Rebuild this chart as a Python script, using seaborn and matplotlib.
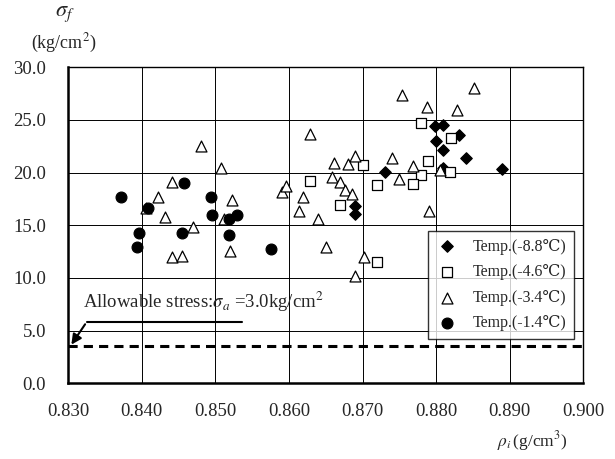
import numpy as np
import pandas as pd
import matplotlib
matplotlib.use('Agg')
import matplotlib.pyplot as plt
import seaborn as sns

# ------------------------------------------------------------
# datos: densidad rho_i (g/cm3) vs sigma_f (kg/cm2)
# ------------------------------------------------------------
rho_m88 = [0.8799, 0.8810, 0.8831, 0.8800, 0.8810, 0.8840, 0.8730, 0.8809, 0.8890, 0.8690, 0.8690]
sig_m88 = [24.4, 24.5, 23.6, 23.0, 22.1, 21.4, 20.1, 20.4, 20.3, 16.8, 16.1]

rho_m46 = [0.8779, 0.8820, 0.8700, 0.8789, 0.8819, 0.8629, 0.8780, 0.8769, 0.8720, 0.8669, 0.8719]
sig_m46 = [24.7, 23.3, 20.7, 21.1, 20.1, 19.2, 19.8, 18.9, 18.8, 16.9, 11.5]

rho_m34 = [0.8406, 0.8422, 0.8441, 0.8431, 0.8470, 0.8441, 0.8454, 0.8481, 0.8508, 0.8522,
           0.8511, 0.8520, 0.8590, 0.8596, 0.8619, 0.8613, 0.8640, 0.8628, 0.8661, 0.8680,
           0.8690, 0.8659, 0.8670, 0.8676, 0.8686, 0.8650, 0.8702, 0.8690, 0.8740, 0.8750,
           0.8769, 0.8790, 0.8753, 0.8787, 0.8829, 0.8851, 0.8805]
sig_m34 = [16.6, 17.7, 19.1, 15.8, 14.8, 12.0, 12.1, 22.5, 20.4, 17.4,
           15.6, 12.6, 18.2, 18.7, 17.7, 16.4, 15.6, 23.7, 20.9, 20.8,
           21.6, 19.6, 19.1, 18.3, 18.0, 12.9, 12.0, 10.2, 21.4, 19.4,
           20.6, 16.4, 27.4, 26.2, 25.9, 28.0, 20.2]

rho_m14 = [0.8371, 0.8457, 0.8408, 0.8396, 0.8393, 0.8455, 0.8494, 0.8496, 0.8519, 0.8529,
           0.8519, 0.8576]
sig_m14 = [17.7, 19.0, 16.6, 14.3, 12.9, 14.3, 17.7, 16.0, 15.6, 16.0, 14.1, 12.7]

etiquetas = ['Temp.(-8.8℃)', 'Temp.(-4.6℃)', 'Temp.(-3.4℃)', 'Temp.(-1.4℃)']
esfuerzo_adm = 3.5   # linea discontinua (tal como aparece dibujada)

x_ticks = [0.830, 0.840, 0.850, 0.860, 0.870, 0.880, 0.890, 0.900]
y_ticks = [0.0, 5.0, 10.0, 15.0, 20.0, 25.0, 30.0]

df = pd.concat([
    pd.DataFrame({'rho': rho_m88, 'sigma': sig_m88, 'temp': etiquetas[0]}),
    pd.DataFrame({'rho': rho_m46, 'sigma': sig_m46, 'temp': etiquetas[1]}),
    pd.DataFrame({'rho': rho_m34, 'sigma': sig_m34, 'temp': etiquetas[2]}),
    pd.DataFrame({'rho': rho_m14, 'sigma': sig_m14, 'temp': etiquetas[3]}),
], ignore_index=True)

# ------------------------------------------------------------
# estilo
# ------------------------------------------------------------
sns.set_style('white')
plt.rcParams['font.family'] = ['Liberation Serif', 'DejaVu Serif']
plt.rcParams['mathtext.fontset'] = 'stix'

fig = plt.figure(figsize=(6.15, 4.59), dpi=100)
ax = fig.add_axes([0.111, 0.165, 0.8374, 0.6885])

estilos = {
    etiquetas[0]: dict(marker='D', s=34, facecolor='black'),
    etiquetas[1]: dict(marker='s', s=52, facecolor='white'),
    etiquetas[2]: dict(marker='^', s=62, facecolor='white'),
    etiquetas[3]: dict(marker='o', s=60, facecolor='black'),
}

for et in etiquetas:
    sub = df[df['temp'] == et]
    st = estilos[et]
    sns.scatterplot(data=sub, x='rho', y='sigma', ax=ax, marker=st['marker'], s=st['s'],
                    color=st['facecolor'], edgecolor='black', linewidth=0.9,
                    label=et, zorder=3)

# linea de esfuerzo admisible
ax.axhline(esfuerzo_adm, color='black', lw=2.2, ls=(0, (3, 2)), zorder=2)

ax.set_xlim(0.83, 0.90)
ax.set_ylim(0, 30)
ax.set_xticks(x_ticks)
ax.set_yticks(y_ticks)
ax.set_xticklabels([f'{v:.3f}' for v in x_ticks])
ax.set_yticklabels([f'{v:.1f}' for v in y_ticks])
ax.tick_params(axis='both', length=0, labelsize=13.5)
ax.tick_params(axis='x', pad=14)
ax.tick_params(axis='y', pad=16)
ax.grid(True, color='black', lw=0.7)
ax.set_axisbelow(True)
ax.set_xlabel('')
ax.set_ylabel('')

for lado in ['left', 'bottom']:
    ax.spines[lado].set_linewidth(1.8)
for lado in ['top', 'right']:
    ax.spines[lado].set_linewidth(1.0)
for sp in ax.spines.values():
    sp.set_color('black')

# anotacion con flecha
ax.text(0.0285, 0.257, 'Allowable stress:$\\sigma_a$ =3.0kg/cm$^2$', transform=ax.transAxes,
        fontsize=13.5, va='center', ha='left')
ax.plot([0.0357, 0.3367], [0.194, 0.194], transform=ax.transAxes, color='black', lw=1.5,
        clip_on=False)
ax.annotate('', xy=(0.003, 0.115), xytext=(0.0357, 0.194),
            xycoords='axes fraction', textcoords='axes fraction',
            arrowprops=dict(arrowstyle='-|>', color='black', lw=1.5, mutation_scale=15))

# etiquetas de ejes
fig.text(0.106, 0.970, '$\\sigma_f$', fontsize=16, ha='center', va='center')
fig.text(0.103, 0.906, '(kg/cm$^2$)', fontsize=13, ha='center', va='center')
fig.text(0.865, 0.039, '$\\rho_i\\,$(g/cm$^3$)', fontsize=12.5, ha='center', va='center')

leg = ax.legend(loc='upper right', bbox_to_anchor=(0.9825, 0.483), frameon=True,
                fancybox=False, edgecolor='black', fontsize=11.5, handletextpad=0.9,
                borderpad=0.5, labelspacing=0.6, handlelength=1.4, borderaxespad=0)
leg.get_frame().set_linewidth(1.0)
leg.set_zorder(5)

fig.savefig('out.png', dpi=100)
